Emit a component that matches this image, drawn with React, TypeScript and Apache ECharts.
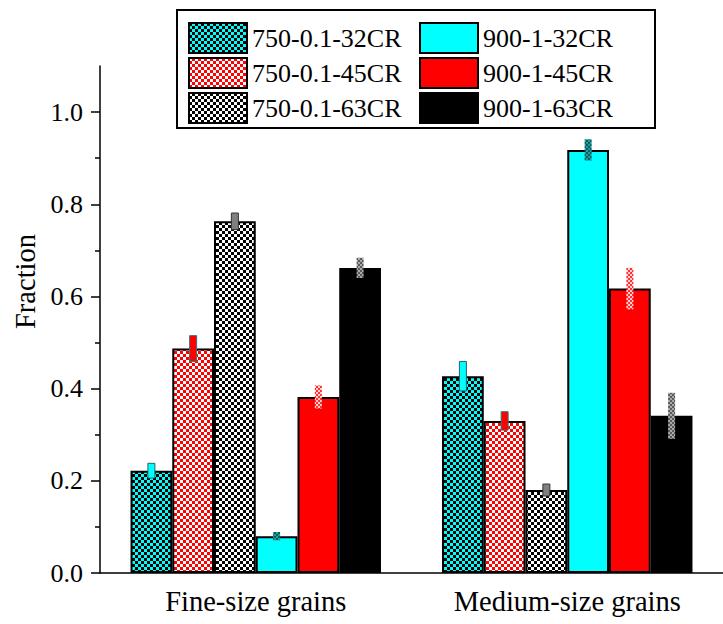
import React, { useEffect, useRef } from "react";
import * as echarts from "echarts";

const categories = ["Fine-size grains", "Medium-size grains"];
const seriesNames = ["750-0.1-32CR", "750-0.1-45CR", "750-0.1-63CR", "900-1-32CR", "900-1-45CR", "900-1-63CR"];

const v750_32 = [0.222, 0.427];
const v750_45 = [0.487, 0.330];
const v750_63 = [0.763, 0.180];
const v900_32 = [0.080, 0.918];
const v900_45 = [0.382, 0.617];
const v900_63 = [0.662, 0.341];

const e750_32 = [0.016, 0.032];
const e750_45 = [0.028, 0.020];
const e750_63 = [0.018, 0.013];
const e900_32 = [0.009, 0.023];
const e900_45 = [0.025, 0.045];
const e900_63 = [0.022, 0.050];

const yLabelValues = [0, 0.2, 0.4, 0.6, 0.8, 1.0];
const yMinorValues = [0.1, 0.3, 0.5, 0.7, 0.9];

const FONT = "Liberation Serif";
const BAR_RATIO = 0.134;

function checker(c1: string, c2: string, cell: number) {
  const cv = document.createElement("canvas");
  cv.width = cell * 2;
  cv.height = cell * 2;
  const ctx = cv.getContext("2d")!;
  ctx.fillStyle = c1;
  ctx.fillRect(0, 0, cell * 2, cell * 2);
  ctx.fillStyle = c2;
  ctx.fillRect(0, 0, cell, cell);
  ctx.fillRect(cell, cell, cell, cell);
  return { image: cv, repeat: "repeat" } as any;
}

export default function App() {
  const ref = useRef<HTMLDivElement>(null);
  useEffect(() => {
    if (!ref.current) return;
    const chart = echarts.init(ref.current, null, { renderer: "svg" });

    const values = [v750_32, v750_45, v750_63, v900_32, v900_45, v900_63];
    const errors = [e750_32, e750_45, e750_63, e900_32, e900_45, e900_63];
    const fills: any[] = [
      checker("#00ffff", "#000000", 3),
      checker("#ff0000", "#ffffff", 3),
      checker("#000000", "#ffffff", 3),
      "#00ffff",
      "#ff0000",
      "#000000",
    ];
    const errStyles: any[] = [
      { fill: "#00ffff", stroke: "#1d6666", lineWidth: 1 },
      { fill: "#ff0000", stroke: "#2f7a7a", lineWidth: 1 },
      { fill: "#808080", stroke: "#333333", lineWidth: 1 },
      { fill: checker("#005e5e", "#2a9c9c", 2), stroke: null, lineWidth: 0 },
      { fill: checker("#ff3030", "#ffd0d0", 2), stroke: null, lineWidth: 0 },
      { fill: checker("#5a5a5a", "#a8a8a8", 2), stroke: null, lineWidth: 0 },
    ];

    const barSeries = seriesNames.map((name, i) => ({
      name,
      type: "bar",
      xAxisIndex: 0,
      yAxisIndex: 0,
      barWidth: BAR_RATIO * 100 + "%",
      barGap: "0%",
      itemStyle: { color: fills[i], borderColor: "#000", borderWidth: 2 },
      data: values[i],
      z: 2,
    }));

    const errSeries = seriesNames.map((name, i) => ({
      name: "err " + name,
      type: "custom",
      xAxisIndex: 0,
      yAxisIndex: 0,
      z: 5,
      encode: { x: 0, y: 1 },
      data: categories.map((_, k) => [k, values[i][k], errors[i][k]]),
      renderItem: (params: any, api: any) => {
        const x = api.value(0);
        const v = api.value(1);
        const e = api.value(2);
        const c = api.coord([x, v]);
        const band = api.size([1, 0])[0];
        const bw = band * BAR_RATIO;
        const cx = c[0] + (i - 2.5) * bw;
        const top = api.coord([x, v + e])[1];
        const bot = api.coord([x, v - e])[1];
        const ew = 7;
        return {
          type: "rect",
          shape: { x: cx - ew / 2, y: top, width: ew, height: bot - top },
          style: errStyles[i],
        };
      },
    }));

    chart.setOption({
      animation: false,
      backgroundColor: "#fff",
      grid: { left: 100, top: 66, width: 630, bottom: 51, containLabel: false },
      legend: {
        data: seriesNames,
        orient: "vertical",
        left: 177,
        top: 10,
        height: 114,
        padding: [12, 8, 4, 11],
        itemWidth: 58,
        itemHeight: 30,
        itemGap: 3,
        icon: "rect",
        borderColor: "#000",
        borderWidth: 2,
        textStyle: { fontSize: 26, fontFamily: FONT, color: "#000", width: 164, lineHeight: 30 },
      },
      xAxis: [
        {
          type: "category",
          data: categories,
          position: "bottom",
          axisLine: { lineStyle: { color: "#000", width: 1.5 } },
          axisTick: { alignWithLabel: true, length: 10, lineStyle: { color: "#000", width: 1.5 } },
          axisLabel: { fontSize: 28.5, fontFamily: FONT, color: "#000", margin: 14 },
        },
        {
          type: "category",
          data: categories,
          position: "bottom",
          axisLine: { show: false },
          axisTick: { alignWithLabel: false, length: 5, lineStyle: { color: "#000", width: 1.5 } },
          axisLabel: { show: false },
        },
      ],
      yAxis: [
        {
          type: "value",
          min: 0,
          max: 1.1,
          name: "Fraction",
          nameLocation: "middle",
          nameGap: 60,
          nameTextStyle: { fontSize: 28.5, fontFamily: FONT, color: "#000", padding: [0, 0, 0, 76] },
          splitLine: { show: false },
          axisLine: { show: true, lineStyle: { color: "#000", width: 1.5 } },
          axisTick: { show: true, length: 9, customValues: yLabelValues, lineStyle: { color: "#000", width: 1.5 } },
          axisLabel: {
            customValues: yLabelValues,
            fontSize: 26,
            fontFamily: FONT,
            color: "#000",
            margin: 17,
            formatter: (v: number) => v.toFixed(1),
          },
        },
        {
          type: "value",
          min: 0,
          max: 1.1,
          position: "left",
          splitLine: { show: false },
          axisLine: { show: false },
          axisTick: { show: true, length: 5, customValues: yMinorValues, lineStyle: { color: "#000", width: 1.5 } },
          axisLabel: { show: false },
        },
      ],
      series: [...barSeries, ...errSeries],
    });
    return () => chart.dispose();
  }, []);
  return <div ref={ref} style={{ width: 723, height: 624, position: "absolute", left: 0, top: 0 }} />;
}
